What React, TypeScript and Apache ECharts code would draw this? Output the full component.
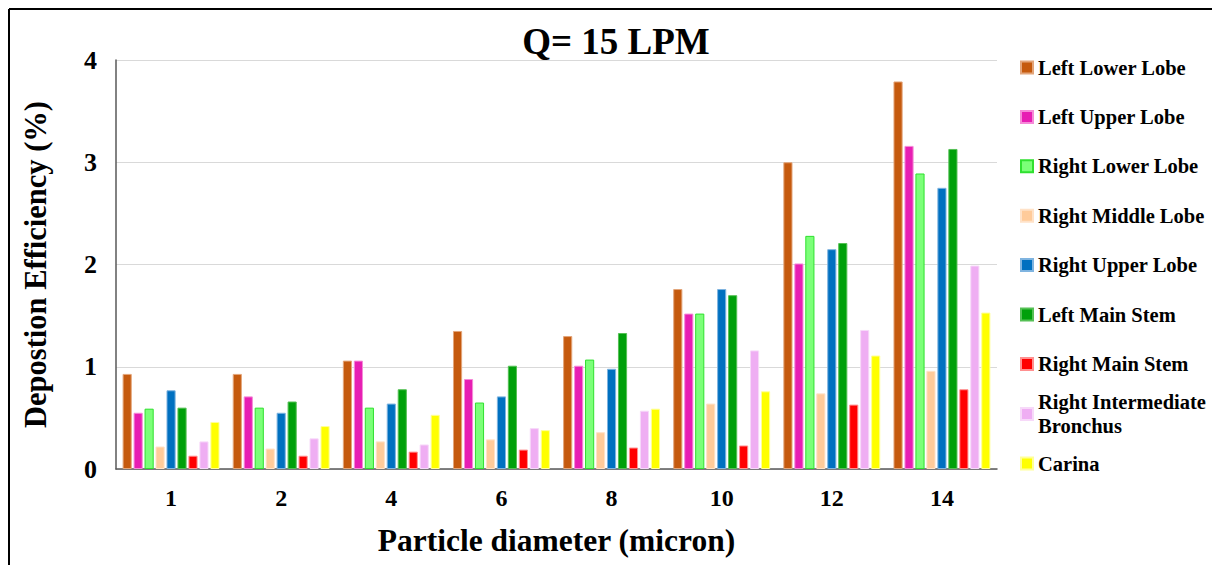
import React, { useEffect, useRef } from "react";
import * as echarts from "echarts";

const categories = ["1", "2", "4", "6", "8", "10", "12", "14"];
const yTicks = [0, 1, 2, 3, 4];

const leftLowerLobe = [0.93, 0.93, 1.06, 1.35, 1.30, 1.76, 3.00, 3.79];
const leftUpperLobe = [0.55, 0.71, 1.06, 0.88, 1.01, 1.52, 2.01, 3.16];
const rightLowerLobe = [0.59, 0.60, 0.60, 0.65, 1.07, 1.52, 2.28, 2.89];
const rightMiddleLobe = [0.22, 0.20, 0.27, 0.29, 0.36, 0.64, 0.74, 0.96];
const rightUpperLobe = [0.77, 0.55, 0.64, 0.71, 0.98, 1.76, 2.15, 2.75];
const leftMainStem = [0.60, 0.66, 0.78, 1.01, 1.33, 1.70, 2.21, 3.13];
const rightMainStem = [0.13, 0.13, 0.17, 0.19, 0.21, 0.23, 0.63, 0.78];
const rightIntermediateBronchus = [0.27, 0.30, 0.24, 0.40, 0.57, 1.16, 1.36, 1.99];
const carina = [0.46, 0.42, 0.53, 0.38, 0.59, 0.76, 1.11, 1.53];

const seriesNames = [
  "Left Lower Lobe",
  "Left Upper Lobe",
  "Right Lower Lobe",
  "Right Middle Lobe",
  "Right Upper Lobe",
  "Left Main Stem",
  "Right Main Stem",
  "Right Intermediate Bronchus",
  "Carina",
];
const seriesData = [
  leftLowerLobe,
  leftUpperLobe,
  rightLowerLobe,
  rightMiddleLobe,
  rightUpperLobe,
  leftMainStem,
  rightMainStem,
  rightIntermediateBronchus,
  carina,
];
const fillColors = [
  "#C55A0E",
  "#E71EB3",
  "#7BFF78",
  "#FFCB9A",
  "#0070C0",
  "#00A00A",
  "#FF0000",
  "#EFAEF3",
  "#FFFF00",
];
const borderColors = [
  "#E3A57A",
  "#F58AD8",
  "#2FE02F",
  "#FFE2C8",
  "#7FB4E0",
  "#55C055",
  "#FF9090",
  "#F7D9F9",
  "#FFFF99",
];

const FONT = "'Liberation Serif', 'Times New Roman', serif";

export default function App() {
  const ref = useRef<HTMLDivElement>(null);
  useEffect(() => {
    if (!ref.current) return;
    const chart = echarts.init(ref.current, undefined, { renderer: "svg" });
    const legendText = {
      fontFamily: FONT,
      fontWeight: "bold",
      fontSize: 20.5,
      color: "#000",
      lineHeight: 20,
    };
    chart.setOption({
      animation: false,
      backgroundColor: "#fff",
      title: {
        text: "Q= 15 LPM",
        left: 611,
        top: 18,
        textAlign: "center",
        textStyle: { fontFamily: FONT, fontWeight: "bold", fontSize: 37, color: "#000" },
      },
      graphic: [
        { type: "line", shape: { x1: 9, y1: 9, x2: 1212, y2: 9 }, style: { stroke: "#000", lineWidth: 2 } },
        { type: "line", shape: { x1: 9, y1: 9, x2: 9, y2: 565 }, style: { stroke: "#000", lineWidth: 2 } },
      ],
      legend: [
        {
          orient: "vertical",
          left: 1020,
          top: 57,
          padding: 0,
          itemGap: 28.4,
          itemWidth: 12,
          itemHeight: 12,
          icon: "rect",
          selectedMode: false,
          data: seriesNames.slice(0, 7),
          textStyle: legendText,
        },
        {
          orient: "vertical",
          left: 1020,
          top: 378,
          padding: 0,
          itemWidth: 12,
          itemHeight: 12,
          icon: "rect",
          selectedMode: false,
          data: [seriesNames[7]],
          formatter: () => "Right Intermediate\nBronchus",
          textStyle: { ...legendText, lineHeight: 24, padding: [24, 0, 0, 0] },
        },
        {
          orient: "vertical",
          left: 1020,
          top: 453,
          padding: 0,
          itemWidth: 12,
          itemHeight: 12,
          icon: "rect",
          selectedMode: false,
          data: [seriesNames[8]],
          textStyle: legendText,
        },
      ],
      grid: { left: 116, right: 215, top: 60, bottom: 96 },
      xAxis: {
        type: "category",
        data: categories,
        name: "Particle diameter (micron)",
        nameLocation: "middle",
        nameGap: 55,
        nameTextStyle: { fontFamily: FONT, fontWeight: "bold", fontSize: 31.5, color: "#000" },
        axisLine: { lineStyle: { color: "#595959", width: 1.5 } },
        axisTick: { alignWithLabel: true, length: 5, lineStyle: { color: "#595959", width: 1.5 } },
        axisLabel: { margin: 17, fontFamily: FONT, fontWeight: "bold", fontSize: 24, color: "#000" },
      },
      yAxis: {
        type: "value",
        min: yTicks[0],
        max: yTicks[yTicks.length - 1],
        interval: 1,
        name: "Depostion Efficiency (%)",
        nameLocation: "middle",
        nameGap: 65,
        nameTextStyle: { fontFamily: FONT, fontWeight: "bold", fontSize: 30.5, color: "#000" },
        axisLine: { show: true, lineStyle: { color: "#595959", width: 1.5 } },
        axisTick: { show: false },
        axisLabel: { margin: 19, fontFamily: FONT, fontWeight: "bold", fontSize: 26, color: "#000" },
        splitLine: { lineStyle: { color: "#D9D9D9", width: 1 } },
      },
      series: seriesNames.map((name, i) => ({
        name,
        type: "bar",
        data: seriesData[i],
        barGap: "20%",
        barCategoryGap: "12%",
        itemStyle: { color: fillColors[i], borderColor: borderColors[i], borderWidth: 1 },
      })),
    });
    return () => chart.dispose();
  }, []);
  return (
    <div
      ref={ref}
      style={{ position: "absolute", left: 0, top: 0, width: 1212, height: 565 }}
    />
  );
}
